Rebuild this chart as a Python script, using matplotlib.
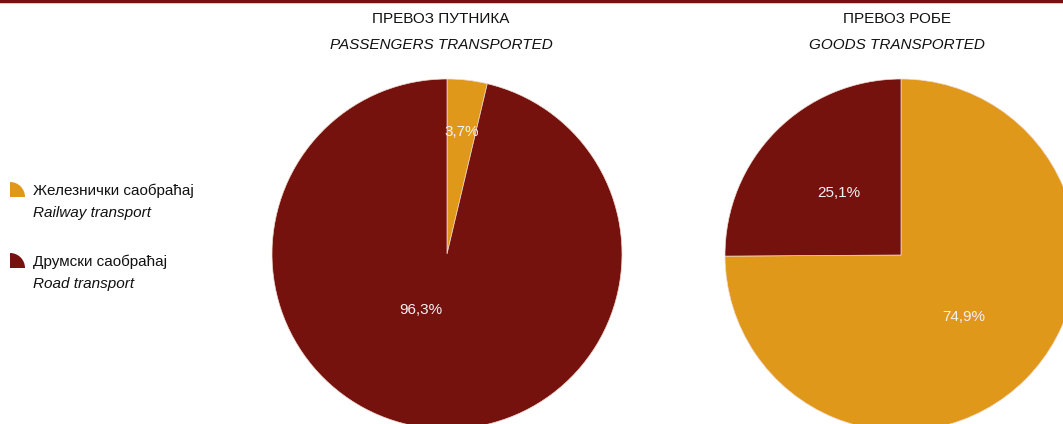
import matplotlib
matplotlib.use('Agg')
import matplotlib.pyplot as plt
import numpy as np
from matplotlib.patches import Wedge

plt.rcParams['font.family'] = ['Liberation Sans Narrow', 'Liberation Sans', 'DejaVu Sans']

# data
series_sr = ['Железнички саобраћај', 'Друмски саобраћај']
series_en = ['Railway transport', 'Road transport']
colors = ['#E0981A', '#75120E']

passengers = [3.7, 96.3]
goods = [74.9, 25.1]

titles_sr = ['ПРЕВОЗ ПУТНИКА', 'ПРЕВОЗ РОБЕ']
titles_en = ['PASSENGERS TRANSPORTED', 'GOODS TRANSPORTED']

W, H = 1063, 424
fig = plt.figure(figsize=(W/100, H/100), dpi=100)

def px_axes(left, top, width, height):
	return fig.add_axes([left/W, 1 - (top + height)/H, width/W, height/H])

def fmt(v):
	return ('%.1f%%' % v).replace('.', ',')

def draw_pie(ax, values, dists):
	wedges, _ = ax.pie(values, colors=colors, startangle=90, counterclock=False,
		wedgeprops=dict(edgecolor='#F2D9D0', linewidth=0.5), radius=1)
	for w, v, d in zip(wedges, values, dists):
		ang = np.deg2rad((w.theta1 + w.theta2)/2)
		ax.text(d[0]*np.cos(ang) + d[1], d[0]*np.sin(ang) + d[2], fmt(v),
			ha='center', va='center', color='#F2F2F2', fontsize=11)
	ax.set_xlim(-1, 1)
	ax.set_ylim(-1, 1)
	ax.axis('off')

ax1 = px_axes(272, 79, 350, 350)
draw_pie(ax1, passengers, [(0.70, 0, 0), (0.35, -0.11, 0.03)])

ax2 = px_axes(725, 79, 352, 352)
draw_pie(ax2, goods, [(0.50, 0, 0), (0.50, 0, 0)])

# titles
for cx, t1, t2 in zip([441, 897], titles_sr, titles_en):
	fig.text(cx/W, 1 - 19/H, t1, ha='center', va='center', fontsize=11, color='#111111')
	fig.text(cx/W, 1 - 45/H, t2, ha='center', va='center', fontsize=11, style='italic', color='#111111')

# top rule
fig.add_artist(plt.Line2D([0, 1], [1 - 1/H, 1 - 1/H], color='#75120E', linewidth=2.5))

# legend
lax = fig.add_axes([0, 0, 1, 1])
lax.set_xlim(0, W)
lax.set_ylim(H, 0)
lax.axis('off')
for i, (s1, s2, c) in enumerate(zip(series_sr, series_en, colors)):
	y0 = 191 + i*71
	lax.add_patch(Wedge((10, y0 + 6), 15, 270, 360, facecolor=c, edgecolor='none'))
	lax.text(33, y0, s1, ha='left', va='center', fontsize=11, color='#111111')
	lax.text(33, y0 + 22, s2, ha='left', va='center', fontsize=11, style='italic', color='#111111')

fig.savefig('out.png', dpi=100)
